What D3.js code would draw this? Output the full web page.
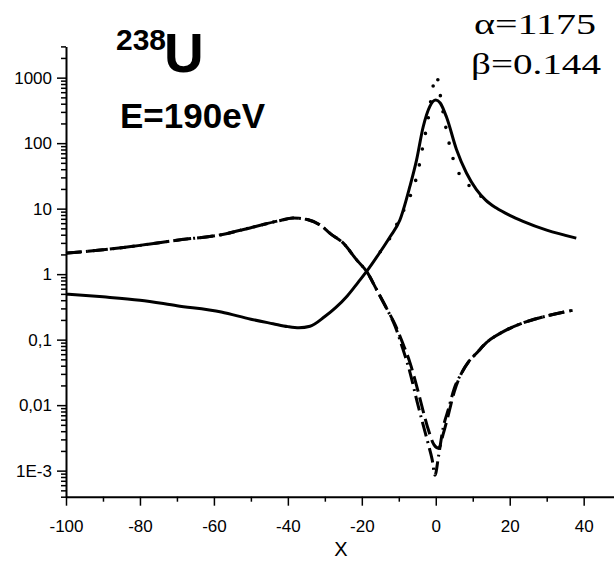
<!DOCTYPE html>
<html>
<head>
<meta charset="utf-8">
<script src="https://cdn.jsdelivr.net/npm/d3@7"></script>
<style>
body { margin: 0; background: #fff; }
svg { display: block; }
</style>
</head>
<body>
<div id="main"></div>
<script>
var ctx = {
    w: 614,
    h: 562,
    left: 66,
    right: 614,
    top: 46.4,
    bottom: 496.7,
};

// axis ticks
var xTicks = [-100, -80, -60, -40, -20, 0, 20, 40];
var xMinor = [-90, -70, -50, -30, -10, 10, 30];
var yTicks = [1e-3, 0.01, 0.1, 1, 10, 100, 1000];
var yTickLabels = ["1E-3", "0,01", "0,1", "1", "10", "100", "1000"];

// solid: broadened peak
var solidX = [-100, -90, -80, -70, -58, -50, -44, -40, -37, -34, -30, -27, -24, -21, -18.7, -15, -12.4, -9.7, -7, -5.2, -3.4, -1.6, 0, 1.2, 2.9, 5.6, 8.3, 11, 13.5, 16.4, 20, 23.6, 30, 38];
var solidY = [0.495, 0.45, 0.4, 0.33, 0.265, 0.205, 0.175, 0.158, 0.152, 0.16, 0.225, 0.31, 0.46, 0.75, 1.1, 2.2, 3.7, 6.7, 21.8, 55, 178, 365, 455, 410, 250, 80, 35, 19.5, 13.5, 10.2, 7.9, 6.4, 4.7, 3.55];

// dotted: narrow peak
var dotX = [-15, -12.4, -10.2, -8, -6.1, -4.8, -3.9, -3, -2.1, -0.7, 0.2, 1.1, 2.2, 3.3, 4.6, 6.6, 9.2, 11, 13];
var dotY = [2.2, 3.55, 6.3, 11.4, 20.5, 37, 68, 123, 228, 750, 1080, 590, 250, 120, 60, 32, 22, 18, 14];

// dashed: broadened dip
var dashX = [-100, -90, -80, -70, -58, -49, -42, -38.6, -34.5, -31, -28.6, -25, -21.4, -18.7, -16, -13.3, -11, -9, -7, -5, -3.5, -2, -0.5, 0.8, 2, 3.5, 5, 7, 9, 11, 13.7, 18, 23.6, 30, 37];
var dashY = [2.09, 2.35, 2.75, 3.3, 4.0, 5.3, 6.6, 7.2, 6.75, 5.5, 4.2, 2.97, 1.65, 1.1, 0.58, 0.3, 0.17, 0.09, 0.045, 0.018, 0.0085, 0.0042, 0.0025, 0.0022, 0.0036, 0.0075, 0.016, 0.031, 0.047, 0.062, 0.09, 0.13, 0.18, 0.23, 0.28];

// dash-dot: narrow dip
var dashDotX = [-100, -90, -80, -70, -58, -49, -42, -38.6, -34.5, -31, -28.6, -25, -21.4, -18.7, -16, -13.3, -11, -9, -7, -5, -3.5, -2, -1, -0.2, 0.7, 2, 3.5, 5, 7, 9, 11, 13.7, 18, 23.6, 30, 37];
var dashDotY = [2.09, 2.35, 2.75, 3.3, 4.0, 5.3, 6.6, 7.2, 6.75, 5.5, 4.2, 2.97, 1.65, 1.1, 0.58, 0.3, 0.16, 0.075, 0.032, 0.011, 0.0052, 0.0025, 0.0015, 0.00085, 0.0016, 0.0045, 0.009, 0.018, 0.031, 0.047, 0.062, 0.09, 0.13, 0.18, 0.23, 0.28];

var svg = d3.select("#main").append("svg")
    .attr("width", ctx.w)
    .attr("height", ctx.h);

var x = d3.scaleLinear().domain([-100, 48.2]).range([ctx.left, ctx.right]);
var y = d3.scaleLog().domain([4e-4, 3000]).range([ctx.bottom, ctx.top]);

var yMinor = [];
for (var e = -4; e <= 3; e++) {
    for (var k = 2; k <= 9; k++) {
        var v = k * Math.pow(10, e);
        if (v >= 4e-4 && v <= 3000) yMinor.push(v);
    }
}

var font = "'Liberation Sans', Arial, sans-serif";

// minor ticks
svg.append("g")
    .attr("transform", "translate(" + ctx.left + ",0)")
    .call(d3.axisLeft(y).tickValues(yMinor).tickSize(5).tickSizeOuter(0).tickFormat(""))
    .call(g => g.select(".domain").remove())
    .call(g => g.selectAll("line").attr("stroke-width", 1.5));

svg.append("g")
    .attr("transform", "translate(0," + ctx.bottom + ")")
    .call(d3.axisBottom(x).tickValues(xMinor).tickSize(5).tickSizeOuter(0).tickFormat(""))
    .call(g => g.select(".domain").remove())
    .call(g => g.selectAll("line").attr("stroke-width", 1.5));

// major axes
var yAxis = svg.append("g")
    .attr("transform", "translate(" + ctx.left + ",0)")
    .call(d3.axisLeft(y).tickValues(yTicks).tickSize(9).tickSizeOuter(0).tickPadding(5)
        .tickFormat(function (d, i) { return yTickLabels[i]; }));

var xAxis = svg.append("g")
    .attr("transform", "translate(0," + ctx.bottom + ")")
    .call(d3.axisBottom(x).tickValues(xTicks).tickSize(9).tickSizeOuter(0).tickPadding(14)
        .tickFormat(function (d) { return String(d); }));

[yAxis, xAxis].forEach(function (g) {
    g.select(".domain").attr("stroke-width", 2);
    g.selectAll(".tick line").attr("stroke-width", 1.5);
    g.selectAll("text")
        .attr("fill", "#000")
        .style("font-family", font)
        .style("font-size", "17px");
});

svg.append("text")
    .attr("x", 341)
    .attr("y", 556)
    .attr("text-anchor", "middle")
    .style("font-family", font)
    .style("font-size", "20px")
    .text("X");

// curves
var line = d3.line()
    .x(function (d) { return x(d[0]); })
    .y(function (d) { return y(d[1]); })
    .curve(d3.curveMonotoneX);

var series = [
    { xs: dashX, ys: dashY, dash: "16,6" },
    { xs: dashDotX, ys: dashDotY, dash: "15,5,2,5" },
    { xs: solidX, ys: solidY, dash: null },
    { xs: dotX, ys: dotY, dash: "0,16" },
];

svg.append("g")
    .selectAll("path")
    .data(series)
    .enter()
    .append("path")
    .attr("d", function (s) { return line(d3.zip(s.xs, s.ys)); })
    .attr("fill", "none")
    .attr("stroke", "#000")
    .attr("stroke-width", function (s) { return s.dash === "0,16" ? 3.6 : 3; })
    .attr("stroke-linecap", function (s) { return s.dash === "0,16" ? "round" : "butt"; })
    .attr("stroke-dasharray", function (s) { return s.dash; });

// annotations
svg.append("text")
    .attr("x", 116)
    .attr("y", 50)
    .style("font-family", font)
    .style("font-weight", "bold")
    .style("font-size", "30px")
    .text("238");

svg.append("text")
    .attr("x", 164)
    .attr("y", 72)
    .style("font-family", font)
    .style("font-weight", "bold")
    .style("font-size", "55px")
    .text("U");

svg.append("text")
    .attr("x", 120)
    .attr("y", 128)
    .style("font-family", font)
    .style("font-weight", "bold")
    .style("font-size", "35px")
    .text("E=190eV");

var serif = "'Liberation Serif', 'Times New Roman', serif";
svg.append("text")
    .attr("x", 474)
    .attr("y", 34)
    .attr("textLength", 122)
    .attr("lengthAdjust", "spacingAndGlyphs")
    .style("font-family", serif)
    .style("font-size", "29px")
    .text("α=1175");

svg.append("text")
    .attr("x", 471)
    .attr("y", 74)
    .attr("textLength", 130)
    .attr("lengthAdjust", "spacingAndGlyphs")
    .style("font-family", serif)
    .style("font-size", "29px")
    .text("β=0.144");
</script>
</body>
</html>
